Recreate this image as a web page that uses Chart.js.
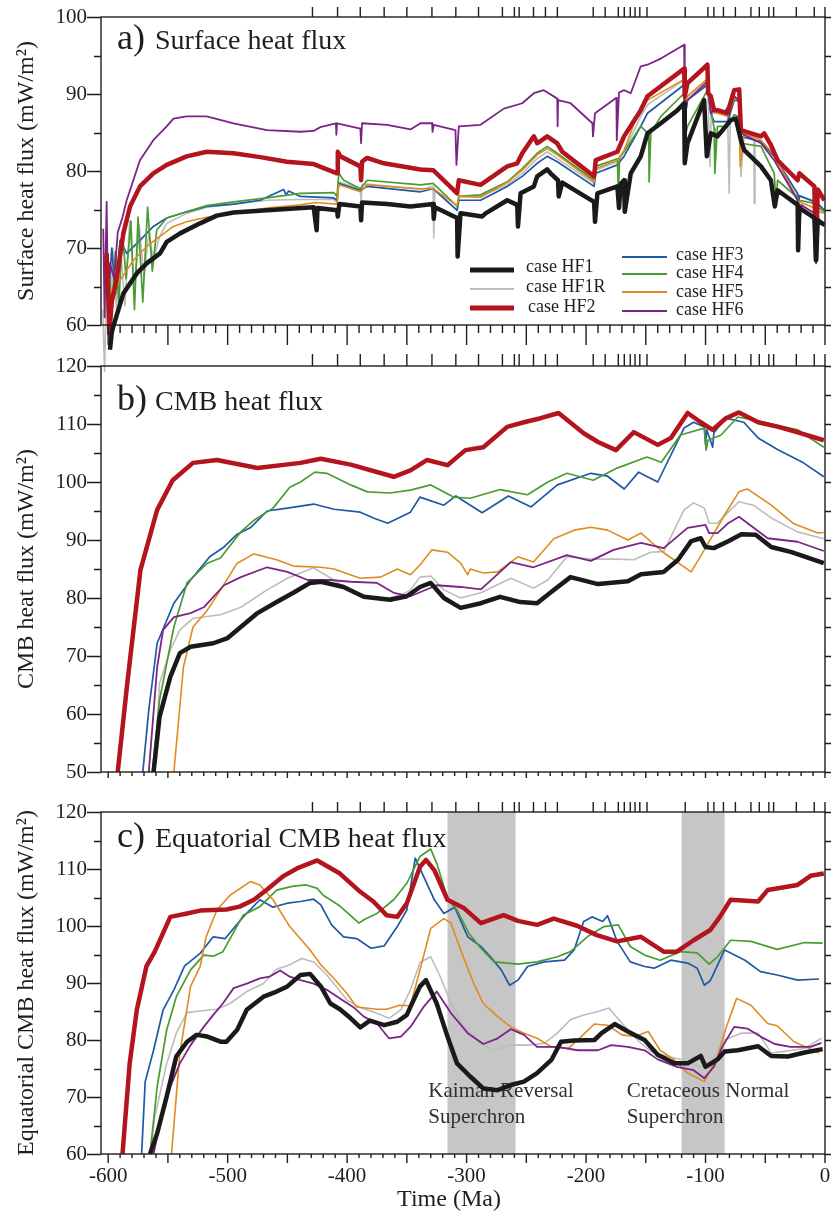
<!DOCTYPE html>
<html>
<head>
<meta charset="utf-8">
<script src="https://cdn.jsdelivr.net/npm/chart.js@4.4.1/dist/chart.umd.min.js"></script>
<style>
  html, body { margin: 0; padding: 0; background: #fff; }
  #wrap { position: relative; width: 831px; height: 1213px; }
  #wrap canvas { position: absolute; left: 0; }
</style>
</head>
<body>
<div id="wrap">
  <canvas id="surface" width="831" height="380" style="top:0px"></canvas>
  <canvas id="cmb" width="831" height="440" style="top:345px"></canvas>
  <canvas id="equator" width="831" height="423" style="top:790px"></canvas>
</div>
<script>
const serif = "'Liberation Serif', 'Times New Roman', serif";
const ink = '#1e1e1e';

// axis ticks
const timeTicks = [-600, -500, -400, -300, -200, -100, 0];
const surfTicks = [60, 70, 80, 90, 100];
const cmbTicks = [50, 60, 70, 80, 90, 100, 110, 120];
const eqTicks = [60, 70, 80, 90, 100, 110, 120];
// reconstruction stage times, marked on top of every panel
const stageTimes = [-429, -408, -389, -369, -350, -329, -309, -290, -270, -260, -256, -244, -234, -224,
  -194, -184, -173, -168, -163, -159, -155, -149, -117, -98, -93, -85, -75, -62, -55, -47, -43, -24, -9, 0];

const caseNames = ['case HF1', 'case HF1R', 'case HF2', 'case HF3', 'case HF4', 'case HF5', 'case HF6'];
const caseColors = ['#1a1a1a', '#bcbcbc', '#b3141d', '#1f58a6', '#4b9b33', '#df8b1e', '#7a2585'];
const caseWidths = [4.5, 1.6, 4.5, 1.7, 1.7, 1.6, 1.8];

const superchrons = [[-316, -259], [-120, -84]];
const chronLabels = [
  {t: -332, lines: ['Kaiman Reversal', 'Superchron']},
  {t: -166, lines: ['Cretaceous Normal', 'Superchron']}
];

// a) surface heat flux  [time Ma, mW/m2]
const surfHF1 = [[-598.5,56.8],[-597,59],[-595.7,59.8],[-587.3,64.1],[-576.1,66.7],[-567.8,68.0],[-556.6,69.3],[-551.0,70.8],[-539.8,71.9],[-523.1,73.2],[-509.1,74.2],[-495.1,74.6],[-467.1,74.9],[-447.6,75.1],[-428.0,75.3],[-425.5,72.3],[-424.8,75.2],[-408.4,74.9],[-407.8,74.1],[-406.5,75.7],[-388.9,75.4],[-388.3,73.6],[-387.5,75.9],[-366.5,75.7],[-347.0,75.4],[-328.0,75.7],[-327.5,73.8],[-326.5,75.3],[-307.9,73.9],[-307.5,68.9],[-305.1,74.5],[-286.9,74.1],[-284.1,74.5],[-266.0,76.2],[-257.6,75.6],[-257.0,72.8],[-254.8,77.1],[-243.7,78.0],[-240.9,79.3],[-232.5,80.2],[-229.7,79.7],[-223.5,78.8],[-222.9,76.7],[-219.9,78.5],[-193.3,76.0],[-192.5,73.4],[-190.5,77.1],[-173.8,78.0],[-172.4,75.2],[-171.0,78.3],[-168.2,78.8],[-167.6,74.7],[-162.6,79.7],[-154.2,81.9],[-148.6,84.9],[-137.4,86.2],[-123.5,87.9],[-117.9,88.8],[-117.4,81.0],[-115.1,83.6],[-101.2,89.2],[-98.9,81.9],[-95.6,84.9],[-90.0,84.5],[-78.8,86.6],[-74.6,86.8],[-70.4,84.0],[-67.6,82.7],[-53.6,80.6],[-45.3,78.8],[-42.0,75.4],[-39.7,77.5],[-22.9,75.6],[-22.5,69.7],[-21.5,75.2],[-8.9,73.9],[-7.5,68.4],[-6.1,73.6],[-0.5,73.0]];
const surfHF1R = [[-604.5,62],[-603,54],[-601.3,66],[-599,57.5],[-596,70],[-593,62],[-590.1,71.0],[-586,62.5],[-582,73.5],[-578,64],[-574,73],[-570,66],[-566,72],[-562.2,68.5],[-557,71.5],[-551.0,73.2],[-534.3,74.5],[-517.5,75.3],[-495.1,75.7],[-467.1,76.2],[-439.2,76.3],[-411.2,76.3],[-408.4,76.0],[-407.0,78.6],[-388.9,77.7],[-388.3,75.8],[-387.5,78.2],[-383.3,78.3],[-338.6,77.6],[-328.0,78.0],[-327.5,71.3],[-326.5,77.5],[-307.9,74.9],[-306.5,76.7],[-288.3,76.7],[-266.0,78.2],[-253.4,79.7],[-240.9,81.6],[-232.5,82.5],[-224.1,81.6],[-193.3,78.4],[-191.9,80.1],[-173.8,81.2],[-168.2,82.5],[-154.2,87.1],[-148.6,88.6],[-117.9,91.8],[-117.4,87.1],[-115.1,89.7],[-98.4,91.8],[-96.2,80.6],[-95.3,87.4],[-92.8,87.5],[-81.6,87.5],[-80.2,77.1],[-79.2,87.8],[-76.0,89.4],[-71.8,89.3],[-70.4,79.3],[-67.6,84.9],[-59.6,84.2],[-59.2,75.8],[-58.6,84.0],[-53.6,83.8],[-42.5,82.1],[-22.9,76.7],[-8.9,76.2],[-6.7,71.0],[-6.1,75.5],[-0.5,74.9]];
const surfHF2 = [[-601.3,69.3],[-600,64],[-599,58.9],[-597,63],[-592.9,66],[-587.3,71.9],[-581.7,75.4],[-573.4,78.0],[-562.2,79.7],[-551.0,80.8],[-534.3,81.9],[-517.5,82.5],[-495.1,82.3],[-472.7,81.8],[-450.4,81.2],[-428.0,80.9],[-408.4,79.7],[-407.8,82.5],[-405.6,81.9],[-388.9,80.6],[-388.3,78.8],[-387.5,81.2],[-383.3,81.7],[-369.3,81.0],[-338.6,80.2],[-328.0,80.1],[-307.9,77.1],[-306.5,78.8],[-288.3,78.2],[-266.0,80.6],[-257.6,81.0],[-253.4,82.3],[-243.7,84.5],[-240.9,83.6],[-232.5,84.5],[-224.1,83.6],[-219.9,82.5],[-193.3,79.3],[-191.9,81.4],[-173.8,82.5],[-168.2,84.5],[-154.2,87.9],[-148.6,89.7],[-117.9,93.3],[-117.4,89.7],[-115.1,91.4],[-98.4,93.8],[-97.8,90.1],[-95.6,89.7],[-92.8,87.9],[-90.0,87.9],[-81.6,87.5],[-76.0,90.5],[-71.8,90.6],[-70.4,85.3],[-53.6,84.5],[-50.9,84.9],[-45.3,83.4],[-39.7,81.4],[-22.9,78.8],[-21.5,79.7],[-8.9,78.0],[-7.5,68.4],[-6.1,77.6],[-0.5,76.2]];
const surfHF3 = [[-600,63],[-597,70],[-594,64],[-590,71],[-584.5,69.3],[-573.4,71.0],[-562.2,72.8],[-551.0,73.9],[-534.3,74.7],[-517.5,75.4],[-495.1,75.7],[-472.7,76.2],[-453.2,77.6],[-451,76.9],[-449,77.4],[-444.8,77.1],[-439.2,76.7],[-411.2,76.5],[-408.4,76.2],[-407.0,78.4],[-388.9,77.5],[-383.3,78.0],[-338.6,77.3],[-328.0,77.7],[-307.9,74.9],[-306.5,76.2],[-288.3,76.2],[-266.0,78.0],[-253.4,79.3],[-240.9,81.0],[-232.5,81.9],[-224.1,81.2],[-193.3,78.0],[-191.9,79.7],[-173.8,80.8],[-168.2,81.9],[-154.2,85.8],[-148.6,87.5],[-117.9,91.2],[-117.4,87.1],[-115.1,89.2],[-98.4,91.2],[-95.6,87.5],[-92.8,86.4],[-81.6,86.4],[-76.0,89.2],[-71.8,89.1],[-70.4,84.5],[-53.6,83.8],[-42.5,81.9],[-22.9,77.1],[-22.5,72.8],[-21.5,76.8],[-8.9,76.0],[-7.5,72.0],[-6.1,75.8],[-0.5,74.9]];
const surfHF4 = [[-599,67],[-597,62],[-594,69.5],[-591,63],[-588,72],[-585,66],[-581,73.5],[-578,62],[-575,74],[-571,63],[-567,75.3],[-563,67],[-559.4,72.3],[-551.0,73.9],[-534.3,74.7],[-517.5,75.5],[-495.1,76.0],[-467.1,76.5],[-439.2,77.1],[-411.2,77.2],[-408.4,76.7],[-407.0,79.7],[-402.8,78.8],[-388.9,77.7],[-383.3,78.8],[-338.6,78.2],[-328.0,78.4],[-307.9,75.4],[-306.5,76.7],[-288.3,76.9],[-266.0,78.6],[-253.4,80.3],[-240.9,82.3],[-232.5,83.2],[-224.1,82.3],[-193.3,78.8],[-191.9,80.6],[-173.8,81.6],[-172.9,77.1],[-171.9,81.8],[-168.2,82.5],[-154.2,85.8],[-147.5,84.8],[-147.2,78.6],[-145.8,84.9],[-137.4,87.1],[-117.9,90.1],[-117.4,84.2],[-115.1,85.8],[-98.4,90.5],[-92.8,85.5],[-92.2,79.7],[-90.0,85.8],[-81.6,85.8],[-76.0,87.3],[-71.8,87.0],[-70.4,83.6],[-53.6,83.2],[-42.5,79.7],[-41.1,76.0],[-39.7,78.8],[-22.9,76.5],[-22.5,72.3],[-21.5,76.2],[-8.9,75.8],[-7.5,72.0],[-6.1,75.3],[-0.5,74.7]];
const surfHF5 = [[-601.3,63.7],[-590.1,65.8],[-578.9,68.4],[-567.8,70.2],[-556.6,71.5],[-545.4,72.8],[-534.3,73.4],[-517.5,74.0],[-495.1,74.5],[-467.1,75.2],[-439.2,75.6],[-426.6,75.9],[-408.4,75.7],[-407.0,78.2],[-388.9,77.3],[-383.3,78.2],[-338.6,77.7],[-328.0,77.7],[-307.9,75.5],[-306.5,76.7],[-288.3,76.6],[-266.0,78.5],[-253.4,80.1],[-240.9,82.1],[-232.5,82.9],[-224.1,82.1],[-193.3,78.6],[-191.9,80.3],[-173.8,81.4],[-168.2,82.7],[-154.2,88.4],[-148.6,89.2],[-117.9,91.9],[-117.4,87.9],[-115.1,89.7],[-98.4,92.0],[-95.6,87.9],[-90.0,87.5],[-81.6,87.1],[-76.0,89.4],[-71.8,89.3],[-71.0,80.6],[-67.6,84.9],[-53.6,84.0],[-42.5,82.1],[-22.9,76.2],[-22.5,72.3],[-21.5,76.0],[-8.9,75.2],[-8.0,71.0],[-6.5,74.8],[-0.5,74.5]];
const surfHF6 = [[-604.1,72.5],[-603,61],[-601.3,76.0],[-600,61.5],[-598.5,68],[-595,66],[-592,72],[-588,74],[-584.5,76.2],[-573.4,81.4],[-562.2,84.0],[-551.0,85.8],[-545.4,86.8],[-534.3,87.1],[-517.5,87.1],[-495.1,86.2],[-467.1,85.3],[-439.2,85.1],[-428.0,85.2],[-422.4,85.7],[-409.4,86.2],[-409.0,84.7],[-408.4,86.2],[-388.9,85.5],[-388.3,83.6],[-387.5,86.2],[-366.5,86.0],[-347.0,85.4],[-338.6,86.2],[-328.9,86.2],[-328.5,85.1],[-327.5,86.0],[-309.3,85.3],[-308.5,80.8],[-306.5,85.8],[-288.3,86.0],[-268.8,88.1],[-253.4,88.8],[-243.7,90.1],[-235.3,90.5],[-224.1,89.4],[-223.8,85.8],[-223.4,89.2],[-213.0,88.8],[-194.7,86.2],[-194.2,84.5],[-192.5,87.5],[-174.6,89.5],[-174.3,84.0],[-172.4,90.2],[-168.2,90.5],[-162.6,90.1],[-154.2,93.6],[-148.6,93.8],[-137.4,94.6],[-117.9,96.4],[-117.4,86.8],[-115.1,89.2],[-98.4,91.6],[-95.6,87.5],[-92.8,87.9],[-84.4,87.5],[-76.0,89.7],[-71.8,89.2],[-70.4,84.9],[-53.6,83.6],[-42.5,81.4],[-22.9,76.2],[-22.5,69.7],[-20.1,75.6],[-8.9,74.5],[-7.5,68.0],[-6.1,74.0],[-0.5,72.8]];

// b) CMB heat flux
const cmbHF1 = [[-562,50],[-557,59.5],[-548,66.4],[-540,70.5],[-531,71.6],[-512,72.2],[-500,73.1],[-489,75.0],[-475,77.4],[-459,79.3],[-445,80.9],[-431,82.6],[-422,82.8],[-403,81.9],[-386,80.2],[-364,79.7],[-350,80.3],[-339,81.9],[-330,82.6],[-319,80.0],[-305,78.3],[-288,79.1],[-272,80.2],[-255,79.3],[-241,79.1],[-230,80.9],[-213,83.6],[-190,82.4],[-165,82.9],[-154,84.1],[-135,84.5],[-123,86.6],[-112,89.8],[-104,90.3],[-100,88.8],[-93,88.6],[-81,89.8],[-70,91.0],[-58,90.9],[-45,88.8],[-28,87.9],[-1,86.0]];
const cmbHF1R = [[-561,50],[-557,65.3],[-548,71.0],[-540,74.5],[-529,76.5],[-506,77.1],[-489,78.4],[-467,81.4],[-450,83.4],[-428,85.2],[-411,83.1],[-395,80.9],[-372,79.7],[-355,80.5],[-347,81.4],[-339,83.6],[-330,83.8],[-319,81.4],[-305,80.0],[-288,80.9],[-263,83.4],[-244,81.7],[-232,83.1],[-216,87.1],[-196,86.7],[-174,86.7],[-160,86.6],[-146,87.9],[-135,88.0],[-118,95.2],[-110,96.4],[-101,95.5],[-97,92.9],[-90,92.9],[-81,94.8],[-72,96.6],[-60,96.0],[-45,93.8],[-23,91.4],[-1,90.2]];
const cmbHF2 = [[-592,50],[-584,65.3],[-573,84.8],[-559,95.2],[-546,100.3],[-529,103.3],[-509,103.8],[-475,102.4],[-439,103.3],[-422,104.0],[-397,103.0],[-361,100.9],[-347,102.0],[-333,103.8],[-316,102.9],[-301,105.5],[-286,106.0],[-266,109.5],[-252,110.3],[-238,111.0],[-223,111.9],[-202,108.4],[-190,106.9],[-175,105.5],[-160,108.6],[-140,106.4],[-129,107.6],[-115,111.9],[-104,110.3],[-94,109.0],[-83,111.0],[-72,112.0],[-56,110.3],[-39,109.5],[-20,108.4],[-1,107.2]];
const cmbHF3 = [[-571,50],[-566,60.7],[-559,72.2],[-545,79.1],[-531,83.1],[-515,87.1],[-503,88.8],[-492,91.0],[-481,92.1],[-467,95.0],[-450,95.5],[-428,96.2],[-411,95.3],[-389,94.8],[-378,93.8],[-366,92.9],[-347,94.8],[-339,97.4],[-319,96.0],[-309,97.6],[-287,94.7],[-265,97.6],[-246,95.7],[-224,99.5],[-196,101.5],[-182,101.0],[-168,98.8],[-156,101.7],[-140,100.0],[-118,109.3],[-110,110.3],[-101,109.5],[-100,106.5],[-99,109],[-94,106],[-93,108.5],[-83,111.0],[-68,110.3],[-56,107.6],[-39,105.5],[-18,103.3],[-1,100.9]];
const cmbHF4 = [[-563,50],[-557,62.4],[-545,75.0],[-534,82.6],[-517,86.0],[-506,86.9],[-489,91.4],[-478,93.4],[-462,95.5],[-448,99.1],[-439,100.0],[-427,101.7],[-417,101.5],[-397,99.5],[-383,98.3],[-364,98.1],[-347,98.6],[-330,99.5],[-311,97.4],[-297,97.2],[-272,98.7],[-249,97.8],[-232,100.0],[-216,101.5],[-194,100.3],[-174,102.4],[-149,104.3],[-137,103.4],[-121,108.1],[-101,109.3],[-99.5,105.5],[-98,107.2],[-87,108.1],[-73,111.2],[-51,110.3],[-23,109.0],[-1,106.0]];
const cmbHF5 = [[-545,50],[-537,68.1],[-529,75.0],[-517,77.9],[-506,81.4],[-492,86.0],[-478,87.6],[-459,86.6],[-445,85.5],[-422,85.3],[-411,85.0],[-389,83.4],[-372,83.6],[-358,85.0],[-347,84.0],[-339,85.7],[-329,88.3],[-316,87.9],[-305,86.0],[-299,84.0],[-297,85.0],[-286,84.3],[-274,84.5],[-257,87.1],[-244,86.2],[-227,90.2],[-210,91.7],[-196,92.2],[-182,91.7],[-165,90.0],[-154,91.2],[-135,87.8],[-112,84.5],[-101,88.3],[-83,94.7],[-72,98.3],[-65,98.8],[-45,96.0],[-26,92.8],[-6,91.2],[-1,91.3]];
const cmbHF6 = [[-566,50],[-559,68.1],[-554,74.5],[-545,76.7],[-531,77.4],[-520,78.4],[-503,82.2],[-489,83.6],[-467,85.3],[-450,84.5],[-433,83.1],[-414,83.1],[-397,82.8],[-375,82.6],[-361,80.9],[-347,80.3],[-325,82.2],[-305,81.9],[-288,81.5],[-263,86.2],[-244,85.3],[-216,87.4],[-196,86.4],[-177,88.3],[-154,89.5],[-135,88.6],[-115,92.1],[-100,92.6],[-97,91.2],[-90,91.2],[-81,92.9],[-72,94.0],[-48,90.3],[-23,89.7],[-1,88.1]];

// c) equatorial CMB heat flux
const eqHF1 = [[-565,60],[-559,63.6],[-551,70.1],[-543,77.1],[-534,79.7],[-526,80.9],[-517,80.6],[-506,79.7],[-501,79.7],[-492,81.8],[-484,85.3],[-470,87.6],[-459,88.5],[-450,89.4],[-439,91.4],[-431,91.6],[-422,89.4],[-414,86.4],[-406,85.4],[-397,83.8],[-389,82.2],[-381,83.4],[-369,82.6],[-358,83.2],[-350,84.4],[-347,85.8],[-339,89.4],[-334,90.5],[-325,86.4],[-316,80.6],[-308,75.9],[-297,73.6],[-286,71.5],[-274,71.2],[-263,72.1],[-252,72.7],[-241,74.2],[-229,76.5],[-221,79.7],[-210,79.9],[-193,80.0],[-187,81.2],[-176,82.8],[-165,81.5],[-151,80.0],[-140,77.4],[-126,75.9],[-115,75.9],[-104,77.2],[-100,75.3],[-90,76.6],[-84,78.0],[-73,78.2],[-56,78.9],[-45,77.2],[-31,77.1],[-17,77.8],[-2,78.4]];
const eqHF1R = [[-566,58],[-561,66.5],[-551,75.9],[-543,81.2],[-534,84.8],[-523,85.1],[-509,85.4],[-498,86.4],[-484,88.5],[-470,89.9],[-459,92.4],[-448,93.2],[-438,94.3],[-428,93.7],[-417,91.4],[-400,87.0],[-389,85.7],[-375,84.7],[-365,83.8],[-355,85.3],[-347,88.8],[-339,93.6],[-330,94.6],[-322,91.1],[-313,86.4],[-302,82.3],[-288,79.4],[-277,78.2],[-263,79.1],[-249,79.1],[-235,79.4],[-224,81.2],[-213,83.6],[-202,84.4],[-190,85.0],[-181,85.6],[-171,83.2],[-157,80.0],[-146,78.0],[-132,77.1],[-118,76.5],[-104,75.3],[-96,75.9],[-84,80.0],[-70,81.2],[-56,81.2],[-45,77.7],[-34,78.0],[-17,78.5],[-3,80.3]];
const eqHF2 = [[-588,60],[-582,75.9],[-576,85.3],[-568,92.9],[-561,95.5],[-548,101.6],[-534,102.2],[-523,102.7],[-501,102.9],[-490,103.4],[-478,104.6],[-467,106.4],[-453,108.8],[-442,110.1],[-425,111.5],[-406,109.2],[-389,106.0],[-378,104.3],[-367,101.9],[-358,101.6],[-350,104.0],[-339,110.4],[-334,111.6],[-327,109.8],[-316,104.6],[-302,103.1],[-288,100.5],[-269,101.9],[-257,100.9],[-241,100.2],[-227,101.3],[-207,100.0],[-191,98.4],[-174,97.3],[-154,98.1],[-135,95.5],[-124,95.5],[-110,97.5],[-96,99.3],[-88,101.6],[-79,104.6],[-56,104.3],[-48,106.3],[-23,107.2],[-12,108.8],[-1,109.2]];
const eqHF3 = [[-572,60],[-569,72.7],[-562,78.2],[-554,85.3],[-545,88.8],[-536,93.0],[-523,95.2],[-512,98.1],[-502,97.8],[-487,101.6],[-473,104.6],[-462,103.3],[-450,104.0],[-439,104.3],[-428,104.7],[-422,103.7],[-413,100.2],[-403,98.1],[-392,97.8],[-380,96.1],[-369,96.5],[-358,99.9],[-350,102.8],[-343,111.9],[-336,108.7],[-327,104.6],[-319,102.2],[-310,103.3],[-299,98.1],[-288,96.4],[-280,94.6],[-271,92.3],[-264,89.6],[-257,90.5],[-249,92.9],[-235,93.7],[-218,94.0],[-210,95.8],[-202,100.8],[-195,101.6],[-186,100.8],[-182,101.8],[-174,97.3],[-163,93.7],[-151,92.9],[-143,92.6],[-129,94.0],[-115,93.5],[-107,92.6],[-101,89.6],[-96,90.4],[-84,95.8],[-67,94.0],[-54,92.0],[-40,91.4],[-23,90.5],[-5,90.7]];
const eqHF4 = [[-565,60],[-559,71.8],[-551,81.8],[-543,87.6],[-531,92.3],[-520,94.9],[-512,94.7],[-504,95.5],[-487,101.9],[-473,103.4],[-459,106.3],[-445,107.0],[-434,107.2],[-425,106.6],[-420,105.4],[-406,103.5],[-390,100.5],[-386,101.1],[-375,102.2],[-361,104.6],[-350,107.5],[-339,112.2],[-330,113.5],[-325,111.0],[-316,104.9],[-308,102.8],[-298,98.7],[-288,96.1],[-277,93.7],[-257,93.3],[-241,93.7],[-224,94.6],[-213,95.5],[-199,98.1],[-185,99.9],[-173,100.2],[-163,96.4],[-151,94.9],[-138,94.0],[-121,95.5],[-107,95.3],[-97,93.3],[-90,94.6],[-79,97.5],[-62,97.3],[-40,95.9],[-17,97.1],[-2,97.0]];
const eqHF5 = [[-547,60],[-540,77.7],[-531,89.4],[-523,92.9],[-518,98.1],[-509,102.8],[-498,105.4],[-481,107.8],[-473,107.2],[-462,104.6],[-448,99.9],[-431,95.8],[-422,93.2],[-411,90.8],[-400,88.1],[-392,85.8],[-375,85.4],[-367,85.4],[-356,86.1],[-347,86.0],[-339,92.3],[-330,99.6],[-319,101.3],[-313,100.5],[-305,95.8],[-294,89.9],[-286,86.4],[-274,84.1],[-263,82.3],[-252,81.2],[-241,80.3],[-229,78.8],[-215,78.5],[-204,80.6],[-193,82.8],[-182,82.6],[-170,80.9],[-159,80.6],[-148,81.5],[-138,78.2],[-126,76.5],[-115,74.2],[-101,72.7],[-90,77.1],[-83,82.0],[-74,87.3],[-62,86.1],[-48,82.9],[-40,82.5],[-26,79.7],[-12,78.4],[-5,77.7]];
const eqHF6 = [[-562,60],[-556,66.0],[-548,71.8],[-540,75.9],[-531,79.1],[-520,82.3],[-512,84.4],[-504,86.4],[-495,89.1],[-484,89.9],[-473,90.8],[-465,91.1],[-456,92.2],[-448,91.1],[-439,90.5],[-428,89.9],[-417,88.8],[-406,87.3],[-395,85.8],[-386,84.1],[-375,82.9],[-365,80.3],[-355,80.6],[-347,82.3],[-336,85.8],[-325,88.5],[-313,84.7],[-299,81.2],[-286,79.3],[-274,80.3],[-263,81.9],[-252,80.9],[-241,78.8],[-224,78.8],[-207,78.2],[-190,78.2],[-179,79.1],[-165,78.8],[-151,78.2],[-140,76.6],[-124,75.3],[-110,74.7],[-101,73.3],[-93,75.3],[-86,78.8],[-76,82.3],[-65,82.0],[-54,80.6],[-42,79.3],[-29,78.8],[-12,78.8],[-3,79.5]];

// first entry is painted last (on top)
const drawOrder = [0, 2, 6, 5, 4, 3, 1];

const framePlugin = {
  id: 'frame',
  afterDatasetsDraw(chart, args, o) {
    const {ctx, chartArea: a, scales: {x, y}} = chart;
    ctx.save();
    ctx.strokeStyle = ink;
    ctx.lineWidth = 1.4;
    ctx.strokeRect(a.left, a.top, a.right - a.left, a.bottom - a.top);
    ctx.beginPath();
    for (let v = y.min; v <= y.max; v += 5) {
      const py = Math.round(y.getPixelForValue(v)) + 0.5;
      const len = v % 10 === 0 ? 14 : 7;
      ctx.moveTo(a.left - len, py); ctx.lineTo(a.left, py);
      ctx.moveTo(a.right, py); ctx.lineTo(a.right + 6, py);
    }
    for (let t = -600; t <= 0; t += 10) {
      const px = x.getPixelForValue(t);
      const len = t % 50 === 0 ? o.major : o.minor;
      ctx.moveTo(px, a.bottom); ctx.lineTo(px, a.bottom + len);
    }
    stageTimes.forEach(t => {
      const px = x.getPixelForValue(t);
      ctx.moveTo(px, a.top); ctx.lineTo(px, a.top - o.top);
    });
    ctx.stroke();
    ctx.restore();
  }
};

const titlePlugin = {
  id: 'panelTitle',
  afterDatasetsDraw(chart, args, o) {
    const {ctx, chartArea: a} = chart;
    ctx.save();
    ctx.fillStyle = ink;
    ctx.textBaseline = 'alphabetic';
    ctx.font = '36px ' + serif;
    ctx.fillText(o.tag, a.left + 16, a.top + o.dy);
    ctx.font = '28px ' + serif;
    ctx.fillText(o.text, a.left + 54, a.top + o.dy);
    ctx.restore();
  }
};

// legend rows: [case index, line x0, line x1, line y, text x, text baseline]
const legendRows = [
  [0, 470, 514, 270, 526, 272], [1, 470, 514, 289, 526, 292], [2, 470, 514, 308, 528, 312],
  [3, 622, 667, 257, 676, 260], [4, 622, 667, 274, 676, 278], [5, 622, 667, 292, 676, 297], [6, 622, 667, 311, 676, 315]
];
const legendPlugin = {
  id: 'caseLegend',
  afterDatasetsDraw(chart) {
    const ctx = chart.ctx;
    ctx.save();
    ctx.font = '18px ' + serif;
    ctx.fillStyle = ink;
    legendRows.forEach(([i, x0, x1, ly, tx, ty]) => {
      ctx.strokeStyle = caseColors[i];
      ctx.lineWidth = caseWidths[i] > 3 ? 5 : 2;
      ctx.beginPath(); ctx.moveTo(x0, ly); ctx.lineTo(x1, ly); ctx.stroke();
      ctx.fillText(caseNames[i], tx, ty);
    });
    ctx.restore();
  }
};

const chronPlugin = {
  id: 'superchrons',
  beforeDatasetsDraw(chart) {
    const {ctx, chartArea: a, scales: {x, y}} = chart;
    ctx.save();
    ctx.fillStyle = '#c6c6c6';
    superchrons.forEach(([t0, t1]) => {
      const x0 = x.getPixelForValue(t0), x1 = x.getPixelForValue(t1);
      ctx.fillRect(x0, a.top, x1 - x0, a.bottom - a.top);
    });
    ctx.font = '21px ' + serif;
    ctx.fillStyle = '#303030';
    chronLabels.forEach(l => {
      const px = x.getPixelForValue(l.t);
      ctx.fillText(l.lines[0], px, y.getPixelForValue(70));
      ctx.fillText(l.lines[1], px, y.getPixelForValue(65.4));
    });
    ctx.restore();
  }
};

const timeTitlePlugin = {
  id: 'timeTitle',
  afterDraw(chart) {
    const {ctx, chartArea: a} = chart;
    ctx.save();
    ctx.font = '24px ' + serif;
    ctx.fillStyle = ink;
    ctx.textAlign = 'center';
    ctx.textBaseline = 'middle';
    ctx.fillText('Time (Ma)', (a.left + a.right) / 2 - 14, chart.height - 13);
    ctx.restore();
  }
};

function buildChart(id, series, opt) {
  return new Chart(document.getElementById(id), {
    type: 'line',
    data: {
      datasets: drawOrder.map(i => ({
        label: caseNames[i],
        data: series[i].map(p => ({x: p[0], y: p[1]})),
        borderColor: caseColors[i],
        borderWidth: caseWidths[i],
        borderJoinStyle: 'round',
        pointRadius: 0,
        tension: 0,
        clip: opt.clip
      }))
    },
    options: {
      responsive: false,
      animation: false,
      devicePixelRatio: 1,
      events: [],
      layout: {padding: opt.padding},
      plugins: {
        legend: {display: false},
        tooltip: {enabled: false},
        frame: opt.frame,
        panelTitle: opt.title
      },
      scales: {
        x: {
          type: 'linear', min: -606, max: 0,
          display: opt.showTime,
          grid: {display: false, drawTicks: false},
          border: {display: false},
          afterBuildTicks: s => { s.ticks = timeTicks.map(v => ({value: v})); },
          afterFit: s => { s.height = opt.showTime ? 59 : 0; s.paddingLeft = 0; s.paddingRight = 0; },
          ticks: {padding: 10, color: ink, font: {family: serif, size: 21}, maxRotation: 0, autoSkip: false, callback: v => String(v)}
        },
        y: {
          type: 'linear', min: opt.yMin, max: opt.yMax,
          grid: {display: false, drawTicks: false},
          border: {display: false},
          afterBuildTicks: s => { s.ticks = opt.yTicks.map(v => ({value: v})); },
          afterFit: s => { s.width = 101; s.paddingTop = 0; s.paddingBottom = 0; },
          ticks: {padding: 14, color: ink, font: {family: serif, size: 21}, callback: v => String(v)},
          title: {display: true, text: opt.yTitle, color: ink, font: {family: serif, size: 24}, padding: {top: 12, bottom: 0}}
        }
      }
    },
    plugins: [framePlugin, titlePlugin].concat(opt.plugins)
  });
}

buildChart('surface', [surfHF1, surfHF1R, surfHF2, surfHF3, surfHF4, surfHF5, surfHF6], {
  yMin: 60, yMax: 100, yTicks: surfTicks, yTitle: 'Surface heat flux (mW/m²)',
  padding: {top: 17, right: 6, bottom: 55, left: 0},
  clip: {left: 0, top: 0, right: 0, bottom: 50},
  showTime: false,
  frame: {major: 20, minor: 8, top: 10},
  title: {tag: 'a)', text: 'Surface heat flux', dy: 32},
  plugins: [legendPlugin]
});

buildChart('cmb', [cmbHF1, cmbHF1R, cmbHF2, cmbHF3, cmbHF4, cmbHF5, cmbHF6], {
  yMin: 50, yMax: 120, yTicks: cmbTicks, yTitle: 'CMB heat flux (mW/m²)',
  padding: {top: 21, right: 6, bottom: 13, left: 0},
  clip: undefined,
  showTime: false,
  frame: {major: 6, minor: 4, top: 12},
  title: {tag: 'b)', text: 'CMB heat flux', dy: 44},
  plugins: []
});

buildChart('equator', [eqHF1, eqHF1R, eqHF2, eqHF3, eqHF4, eqHF5, eqHF6], {
  yMin: 60, yMax: 120, yTicks: eqTicks, yTitle: 'Equatorial CMB heat flux (mW/m²)',
  padding: {top: 22, right: 6, bottom: 0, left: 0},
  clip: undefined,
  showTime: true,
  frame: {major: 9, minor: 4, top: 10},
  title: {tag: 'c)', text: 'Equatorial CMB heat flux', dy: 35},
  plugins: [chronPlugin, timeTitlePlugin]
});
</script>
</body>
</html>
